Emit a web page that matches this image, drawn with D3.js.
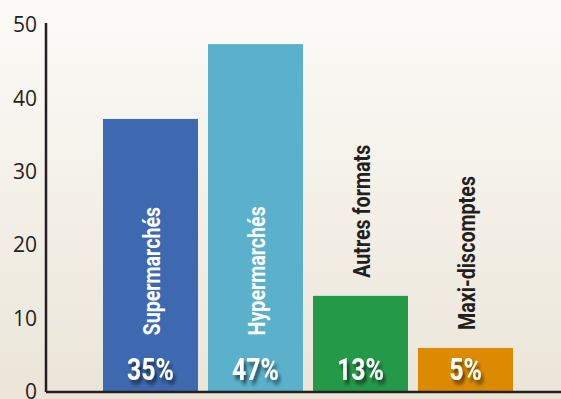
<!DOCTYPE html>
<html>
<head>
<meta charset="utf-8">
<script src="https://cdn.jsdelivr.net/npm/d3@7"></script>
<style>
  html, body { margin: 0; padding: 0; }
  svg { display: block; }
</style>
</head>
<body>
<svg id="chart" width="561" height="399"></svg>
<script>
const categories = ["Supermarchés", "Hypermarchés", "Autres formats", "Maxi-discomptes"];
const values = [37.2, 47.4, 13.1, 6.0];
const shareLabels = ["35%", "47%", "13%", "5%"];
const colors = ["#3e69b0", "#5bb1cc", "#249a48", "#dc8b00"];
const labelInside = [true, true, false, false];
const yTicks = [0, 10, 20, 30, 40, 50];

const W = 561, H = 399;
const svg = d3.select("#chart");
const defs = svg.append("defs");

const grad = defs.append("linearGradient").attr("id", "bg").attr("x1", 0).attr("y1", 0).attr("x2", 0).attr("y2", 1);
grad.append("stop").attr("offset", "0%").attr("stop-color", "#fcfbf8");
grad.append("stop").attr("offset", "100%").attr("stop-color", "#ebe5d8");
svg.append("rect").attr("width", W).attr("height", H).attr("fill", "url(#bg)");

const shadow = defs.append("filter").attr("id", "shadow").attr("x", "-30%").attr("y", "-30%").attr("width", "170%").attr("height", "170%");
shadow.append("feDropShadow").attr("dx", 3).attr("dy", 4).attr("stdDeviation", 2)
  .attr("flood-color", "#000").attr("flood-opacity", 0.6);

const y = d3.scaleLinear().domain([0, 50]).range([392, 25]);
const x = d3.scaleBand().domain(categories).range([98, 518])
  .paddingInner(10 / 105).paddingOuter(5 / 105);

const data = categories.map((c, i) => ({ c, v: values[i], s: shareLabels[i], col: colors[i], inside: labelInside[i] }));

// bars
svg.append("g").selectAll("rect").data(data).join("rect")
  .attr("x", d => x(d.c)).attr("width", x.bandwidth())
  .attr("y", d => y(d.v)).attr("height", d => y(0) - y(d.v))
  .attr("fill", d => d.col);

// y axis
const yAxis = d3.axisLeft(y).tickValues(yTicks).tickSize(0).tickPadding(9);
const ga = svg.append("g").attr("transform", "translate(46,0)").call(yAxis);
ga.select(".domain").remove();
ga.selectAll("text").attr("font-family", "'Open Sans', 'Noto Sans', sans-serif")
  .attr("font-size", 21).attr("fill", "#231f20");

svg.append("line").attr("x1", 46).attr("x2", 46).attr("y1", y(50) - 2).attr("y2", y(0))
  .attr("stroke", "#231f20").attr("stroke-width", 2.5);
svg.append("line").attr("x1", 46).attr("x2", W).attr("y1", y(0)).attr("y2", y(0))
  .attr("stroke", "#231f20").attr("stroke-width", 2.5);

// category labels (rotated)
svg.append("g").selectAll("text").data(data).join("text")
  .attr("transform", d => {
    const cx = x(d.c) + x.bandwidth() / 2 + 9;
    const yy = d.inside ? y(7.7) : y(d.v) - 18;
    return `translate(${cx},${yy}) rotate(-90) scale(0.82,1)`;
  })
  .attr("text-anchor", "start")
  .attr("font-family", "Roboto, 'Liberation Sans', sans-serif")
  .attr("font-weight", "bold")
  .attr("font-size", 24)
  .attr("fill", d => d.inside ? "#ffffff" : "#231f20")
  .text(d => d.c);

// share labels
svg.append("g").selectAll("text").data(data).join("text")
  .attr("transform", d => `translate(${x(d.c) + x.bandwidth() / 2},380) scale(0.8,1)`)
  .attr("text-anchor", "middle")
  .attr("font-family", "Roboto, 'Liberation Sans', sans-serif")
  .attr("font-weight", "bold")
  .attr("font-size", 31)
  .attr("fill", "#ffffff")
  .attr("filter", "url(#shadow)")
  .text(d => d.s);
</script>
</body>
</html>
